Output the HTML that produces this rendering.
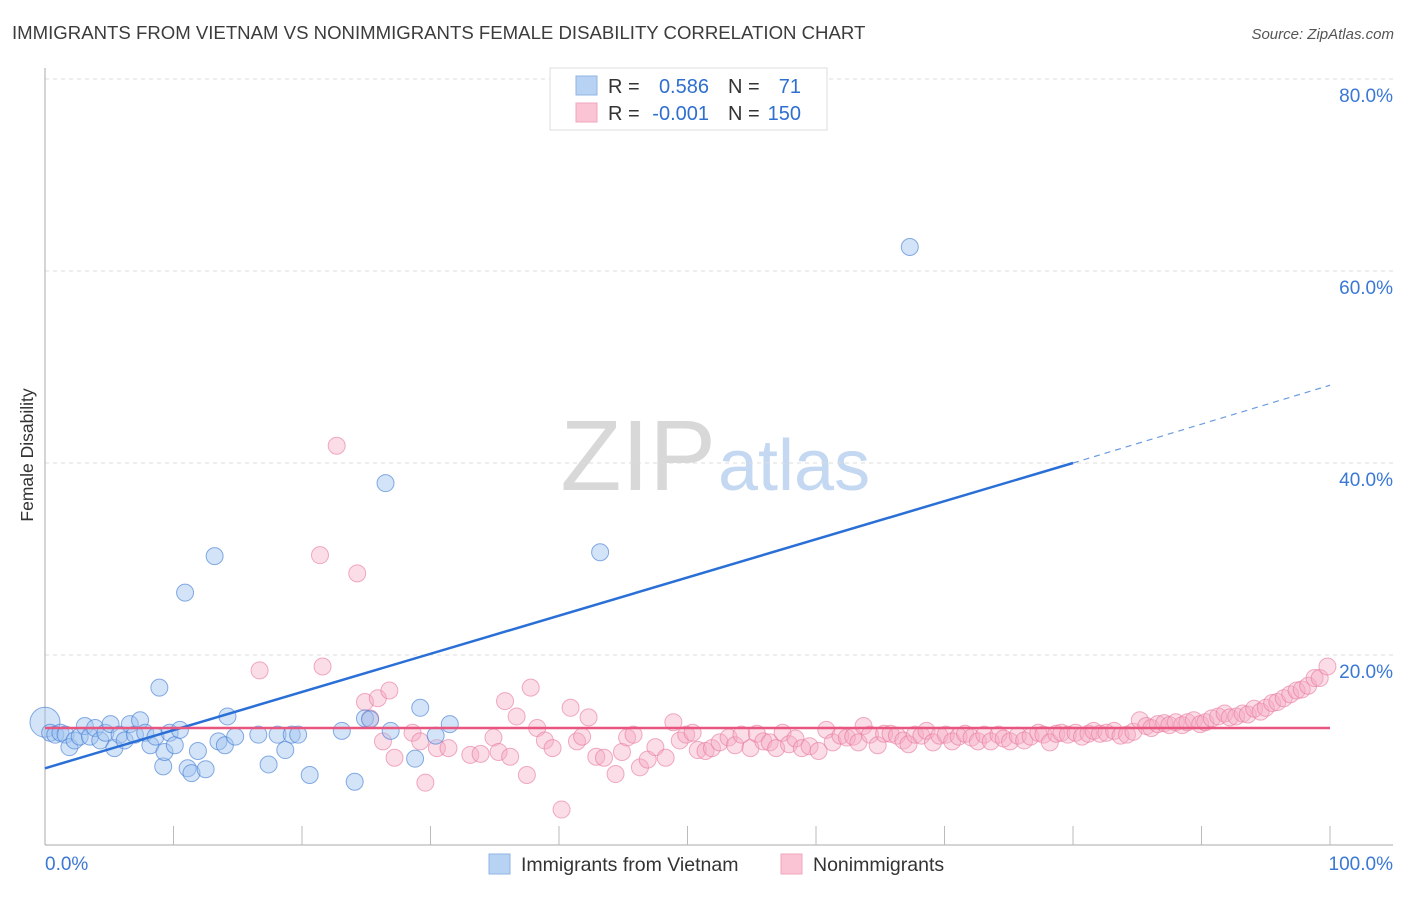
<!DOCTYPE html>
<html><head><meta charset="utf-8"><style>
body{margin:0;background:#fff;font-family:"Liberation Sans",sans-serif;}
svg text{font-family:"Liberation Sans",sans-serif;}
</style></head><body>
<svg id="chart" width="1406" height="892" xmlns="http://www.w3.org/2000/svg">
<text x="12" y="39" font-size="18.6" fill="#3c3c3c">IMMIGRANTS FROM VIETNAM VS NONIMMIGRANTS FEMALE DISABILITY CORRELATION CHART</text>
<text x="1394" y="39" font-size="15" fill="#555" text-anchor="end" font-style="italic">Source: ZipAtlas.com</text>
<text x="716" y="490" font-size="100" text-anchor="end" fill="#d8d8d8" font-family="Liberation Serif,serif">ZIP</text>
<text x="718" y="490" font-size="72" fill="#c4d8f2">atlas</text>
<text transform="translate(33,455) rotate(-90)" font-size="17.5" fill="#333" text-anchor="middle">Female Disability</text>
<g id="grid"></g><g id="axes"></g><g id="pts"></g><g id="lines"></g>
<g>
<rect x="550" y="68" width="277" height="62" fill="#fff" stroke="#ddd"/>
<rect x="576" y="76" width="21" height="19" fill="#b8d2f4" stroke="#8fb4e6"/>
<rect x="576" y="103" width="21" height="19" fill="#fac4d4" stroke="#f0a6bd"/>
<text x="608" y="93" font-size="20" fill="#333">R =</text>
<text x="709" y="93" font-size="20" fill="#2f6fd0" text-anchor="end">0.586</text>
<text x="728" y="93" font-size="20" fill="#333">N =</text>
<text x="801" y="93" font-size="20" fill="#2f6fd0" text-anchor="end">71</text>
<text x="608" y="120" font-size="20" fill="#333">R =</text>
<text x="709" y="120" font-size="20" fill="#2f6fd0" text-anchor="end">-0.001</text>
<text x="728" y="120" font-size="20" fill="#333">N =</text>
<text x="801" y="120" font-size="20" fill="#2f6fd0" text-anchor="end">150</text>
</g>
<g>
<rect x="489" y="854" width="21" height="20" fill="#b8d2f4" stroke="#8fb4e6"/>
<text x="521" y="871" font-size="19.5" fill="#333">Immigrants from Vietnam</text>
<rect x="781" y="854" width="21" height="20" fill="#fac4d4" stroke="#f0a6bd"/>
<text x="813" y="871" font-size="19.5" fill="#333">Nonimmigrants</text>
</g>
</svg>
<script>
const yTicks=[20,40,60,80];
const yTickLabels=["20.0%","40.0%","60.0%","80.0%"];
const xTickLabels=["0.0%","100.0%"];
const blueX=[0,0.4,0.8,1.2,1.6,1.9,2.3,2.7,3.1,3.5,3.9,4.3,4.7,5.1,5.4,5.8,6.2,6.6,7.0,7.4,7.8,8.2,8.6,8.9,9.2,9.3,9.7,10.1,10.5,10.9,11.1,11.4,11.9,12.5,13.2,13.5,14.0,14.2,14.8,16.6,17.4,18.1,18.7,19.2,19.7,20.6,23.1,24.1,24.9,25.3,26.5,26.9,28.8,29.2,30.4,31.5,43.2,67.3];
const blueY=[13.0,11.9,11.7,11.9,11.7,10.4,11.1,11.5,12.6,11.5,12.4,11.1,11.9,12.8,10.3,11.7,11.1,12.8,11.7,13.2,11.9,10.6,11.5,16.6,8.4,9.9,11.9,10.6,12.2,26.5,8.2,7.7,10.0,8.1,30.3,11.0,10.6,13.6,11.5,11.7,8.6,11.7,10.1,11.7,11.7,7.5,12.1,6.8,13.4,13.3,37.9,12.1,9.2,14.5,11.6,12.8,30.7,62.5];
const pinkX=[16.7,21.4,21.6,22.7,24.3,24.9,25.3,25.9,26.3,26.8,27.2,28.6,29.2,29.6,30.5,31.4,33.1,33.9,34.9,35.3,35.8,36.2,36.7,37.5,37.8,38.3,38.9,39.5,40.2,40.9,41.4,41.8,42.3,42.9,43.5,44.4,44.9,45.3,45.8,46.3,46.9,47.5,48.3,48.9,49.4,49.9,50.4,50.8,51.4,51.9,52.5,53.2,53.7,54.2,54.9,55.4,55.9,56.4,56.9,57.4,57.9,58.4,58.9,59.5,60.2,60.8,61.3,61.9,62.4,62.9,63.3,63.7,64.2,64.8,65.3,65.8,66.3,66.8,67.2,67.7,68.2,68.6,69.1,69.6,70.1,70.6,71.1,71.6,72.1,72.6,73.1,73.6,74.2,74.6,75.1,75.7,76.2,76.7,77.3,77.7,78.2,78.7,79.1,79.6,80.2,80.7,81.2,81.6,82.1,82.6,83.2,83.7,84.2,84.7,85.2,85.7,86.1,86.6,87.1,87.5,88.0,88.5,88.9,89.4,89.9,90.3,90.8,91.3,91.8,92.2,92.7,93.2,93.6,94.1,94.6,95.0,95.5,95.9,96.4,96.9,97.4,97.8,98.3,98.8,99.2,99.8];
const pinkY=[18.4,30.4,18.8,41.8,28.5,15.1,13.4,15.5,11.0,16.3,9.3,11.9,11.0,6.7,10.3,10.3,9.6,9.7,11.4,9.9,15.2,9.4,13.6,7.5,16.6,12.4,11.1,10.3,3.9,14.5,11.0,11.5,13.5,9.4,9.3,7.6,9.9,11.4,11.7,8.3,9.1,10.4,9.3,13.0,11.1,11.7,11.9,10.1,10.0,10.3,10.9,11.4,10.6,11.7,10.3,11.8,11.0,10.9,10.3,11.9,10.7,11.3,10.3,10.5,10.0,12.2,10.9,11.6,11.4,11.5,10.9,12.6,11.7,10.6,11.8,11.8,11.6,11.1,10.7,11.7,11.6,12.1,10.9,11.6,11.7,11.0,11.5,11.8,11.4,11.0,11.7,11.0,11.7,11.3,11.0,11.6,11.1,11.5,11.9,11.7,10.9,11.8,11.9,11.7,11.9,11.5,11.8,12.1,11.8,11.9,12.1,11.6,11.7,12.0,13.2,12.6,12.4,12.8,12.9,12.7,13.0,12.7,13.0,13.2,12.8,13.0,13.4,13.6,13.9,13.5,13.6,13.9,13.8,14.4,14.1,14.5,15.0,15.1,15.5,15.9,16.3,16.4,16.8,17.6,17.6,18.8];
const blueTrend=[8.2,40.0,48.1]; // at x=0, 80, 100
const pinkTrend=[12.4,12.4];
const NS="http://www.w3.org/2000/svg";
const X=v=>45+v*12.85, Y=v=>847-v*9.6;
function mk(tag,attrs,parent){const e=document.createElementNS(NS,tag);for(const k in attrs)e.setAttribute(k,attrs[k]);document.getElementById(parent).appendChild(e);return e;}
yTicks.forEach((t,i)=>{
 const g=mk('line',{x1:45,x2:1393,y1:Y(t),y2:Y(t),stroke:'#ddd','stroke-dasharray':'4,4'},'grid');
 
 
 const l=mk('text',{x:1393,y:Y(t)+23,'font-size':19,fill:'#3a78d4','text-anchor':'end'},'axes');
 l.textContent=yTickLabels[i];
 
 
});
const ax=mk('line',{x1:45,x2:1393,y1:845,y2:845,stroke:'#aaa'},'axes');


const ay=mk('line',{x1:45,x2:45,y1:68,y2:845,stroke:'#aaa'},'axes');


for(let k=1;k<=10;k++){const t=mk('line',{x1:X(k*10),x2:X(k*10),y1:826,y2:845,stroke:'#bbb'},'axes');
 
 }
const xl0=mk('text',{x:45,y:870,'font-size':19,fill:'#3a78d4'},'axes');xl0.textContent=xTickLabels[0];


const xl1=mk('text',{x:1393,y:870,'font-size':19,fill:'#3a78d4','text-anchor':'end'},'axes');xl1.textContent=xTickLabels[1];


pinkX.forEach((x,i)=>{const c=mk('circle',{cx:X(x),cy:Y(pinkY[i]),r:8.5,fill:'rgba(246,170,195,0.4)',stroke:'rgba(232,120,155,0.6)','stroke-width':1},'pts');
 
 });
blueX.forEach((x,i)=>{const c=mk('circle',{cx:X(x),cy:Y(blueY[i]),r:i===0?15:8.5,fill:'rgba(160,196,240,0.45)',stroke:'rgba(60,120,210,0.6)','stroke-width':1},'pts');
 
 });
const bl=mk('line',{x1:X(0),y1:Y(blueTrend[0]),x2:X(80),y2:Y(blueTrend[1]),stroke:'#2a6fd6','stroke-width':2.5},'lines');


const bd=mk('line',{x1:X(80),y1:Y(blueTrend[1]),x2:X(100),y2:Y(blueTrend[2]),stroke:'#6a9be0','stroke-width':1.2,'stroke-dasharray':'6,5'},'lines');


const pl=mk('line',{x1:X(0),y1:Y(pinkTrend[0]),x2:X(100),y2:Y(pinkTrend[1]),stroke:'#e8557f','stroke-width':2.5},'lines');


</script>
</body></html>
